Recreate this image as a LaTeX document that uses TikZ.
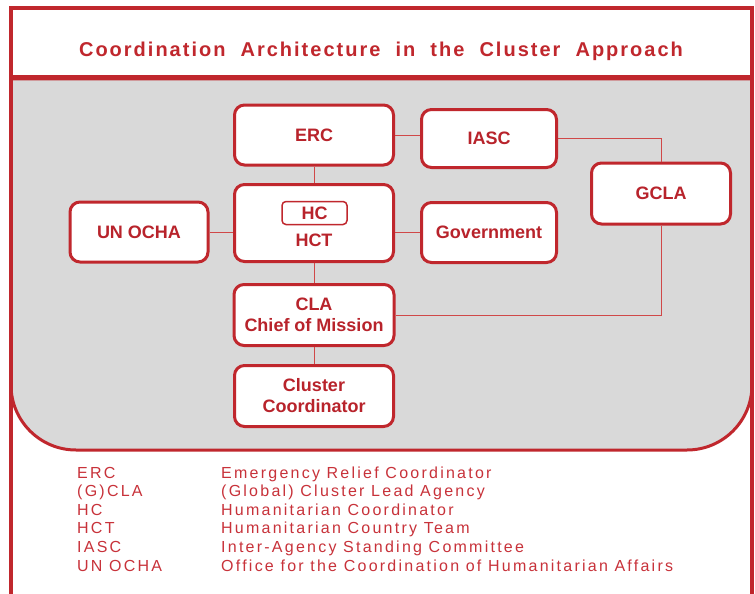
\documentclass[tikz,border=0pt]{standalone}
\usepackage{fontspec}
\setmainfont{Liberation Sans}
\newfontfamily\titlefont[LetterSpace=10]{Liberation Sans}
\newfontfamily\legendfont[LetterSpace=14]{Liberation Sans}
\definecolor{framered}{HTML}{C0272D}
\definecolor{textred}{HTML}{B8232B}
\definecolor{legred}{HTML}{C8323A}
\definecolor{linkred}{HTML}{D04848}
\definecolor{panelgray}{HTML}{D9D9D9}
\begin{document}
\begin{tikzpicture}[x=1pt,y=-1pt,
  box/.style={draw=framered, line width=3pt, fill=white, rounded corners=10pt,
    font=\fontsize{18}{21}\selectfont\bfseries, text=textred, align=center,
    inner sep=0pt},
  link/.style={draw=linkred, line width=1pt},
  legend/.style={anchor=base west, font=\fontsize{16}{18}\selectfont\legendfont, text=legred, inner sep=0pt}
]
\useasboundingbox (0,0) rectangle (755,594);
\fill[white] (0,0) rectangle (755,594);
% gray panel
\path[fill=panelgray, draw=framered, line width=3pt]
  (11,79) -- (752,79) -- (752,385) arc[start angle=0, end angle=90, radius=65]
  -- (76,450) arc[start angle=90, end angle=180, radius=65] -- cycle;
% outer frame
\draw[framered, line width=3.5pt] (11,594) -- (11,8) -- (752,8) -- (752,594);
\draw[framered, line width=4pt] (11,77) -- (752,77);
% title
\node[anchor=base, inner sep=0pt, text=framered, font=\fontsize{20}{24}\selectfont\titlefont\bfseries] (title) at (381,57) {Coordination\ \ Architecture\ \ in\ \ the\ \ Cluster\ \ Approach};
% boxes
\node[box, minimum width=159pt, minimum height=60pt] (erc) at (314,135) {ERC};
\node[box, minimum width=135pt, minimum height=58pt] (iasc) at (489,138.5) {IASC};
\node[box, minimum width=139pt, minimum height=61pt] (gcla) at (661,193.5) {GCLA};
\node[box, minimum width=159pt, minimum height=77pt] (hct) at (314,223) {};
\node[draw=framered, line width=1.5pt, rounded corners=4pt, fill=white, minimum width=65pt, minimum height=23pt, inner sep=0pt, font=\fontsize{18}{21}\selectfont\bfseries, text=textred] (hc) at (314.5,213) {HC};
\node[inner sep=0pt, font=\fontsize{18}{21}\selectfont\bfseries, text=textred] (hctl) at (314,240) {HCT};
\node[box, minimum width=138pt, minimum height=60pt] (ocha) at (139,232) {UN OCHA};
\node[box, minimum width=135pt, minimum height=60pt] (gov) at (489,232.5) {Government};
\node[box, minimum width=160pt, minimum height=61pt] (cla) at (314,315) {CLA\\Chief of Mission};
\node[box, minimum width=159pt, minimum height=61pt] (cc) at (314,396) {Cluster\\Coordinator};
% connectors
\draw[link] (erc.south) -- (hct.north);
\draw[link] (hct.south) -- (cla.north);
\draw[link] (cla.south) -- (cc.north);
\draw[link] (ocha.east) -- (ocha.east -| hct.west);
\draw[link] (hct.east |- gov.west) -- (gov.west);
\draw[link] (erc.east) -- (erc.east -| iasc.west);
\draw[link] (iasc.east) -| (gcla.north);
\draw[link] (gcla.south) |- (cla.east);
% legend
\node[legend] (l1a) at (77,478) {ERC};
\node[legend] (l1b) at (221,478) {Emergency Relief Coordinator};
\node[legend] (l2a) at (77,496.6) {(G)CLA};
\node[legend] (l2b) at (221,496.6) {(Global) Cluster Lead Agency};
\node[legend] (l3a) at (77,515.2) {HC};
\node[legend] (l3b) at (221,515.2) {Humanitarian Coordinator};
\node[legend] (l4a) at (77,533.8) {HCT};
\node[legend] (l4b) at (221,533.8) {Humanitarian Country Team};
\node[legend] (l5a) at (77,552.4) {IASC};
\node[legend] (l5b) at (221,552.4) {Inter-Agency Standing Committee};
\node[legend] (l6a) at (77,571) {UN OCHA};
\node[legend] (l6b) at (221,571) {Office for the Coordination of Humanitarian Affairs};
\end{tikzpicture}
\end{document}
